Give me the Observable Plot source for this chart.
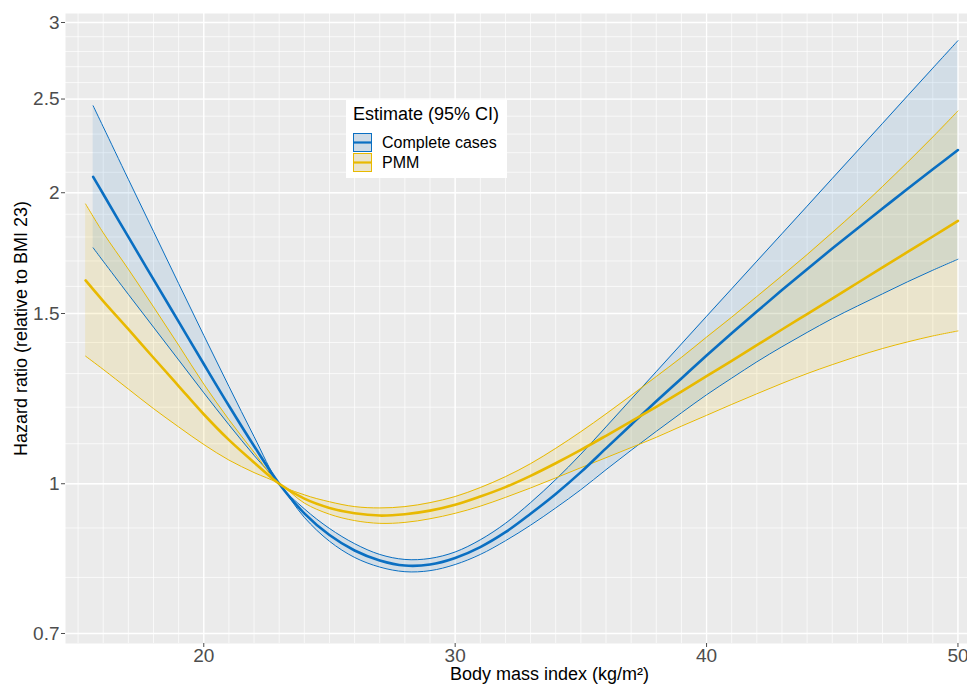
<!DOCTYPE html>
<html>
<head>
<meta charset="utf-8">
<script src="https://cdn.jsdelivr.net/npm/d3@7"></script>
<script src="https://cdn.jsdelivr.net/npm/@observablehq/plot@0.6"></script>
<style>
  html, body { margin: 0; padding: 0; background: #ffffff; }
  #wrap { position: relative; width: 967px; height: 685px; font-family: "Liberation Sans", Arial, sans-serif; }
  #legend { position: absolute; left: 346px; top: 100px; width: 161px; height: 78px; background: #ffffff; }
  #legend .title { position: absolute; left: 7px; top: 4px; font-size: 18px; color: #000; white-space: nowrap; }
  #legend .row { position: absolute; left: 7px; height: 19px; display: flex; align-items: center; white-space: nowrap; font-size: 16px; color: #000; }
  #legend .row svg { margin-right: 10px; }
</style>
</head>
<body>
<div id="wrap"></div>
<script>
// ---- Data ----
// Complete cases (blue)
const ccBmi   = [15.6, 16, 17, 18, 19, 20, 21, 22, 23, 24, 25, 26, 27, 28, 29, 30, 31, 32, 33, 34, 35, 36, 37, 38, 39, 40, 41, 42, 43, 44, 45, 46, 47, 48, 49, 50];
const ccEst   = [2.077, 1.994, 1.800, 1.627, 1.471, 1.330, 1.204, 1.094, 1.000, 0.932, 0.885, 0.853, 0.833, 0.823, 0.825, 0.838, 0.860, 0.891, 0.931, 0.976, 1.028, 1.088, 1.151, 1.217, 1.285, 1.357, 1.431, 1.507, 1.586, 1.667, 1.751, 1.837, 1.926, 2.019, 2.115, 2.214];
const ccLower = [1.754, 1.699, 1.570, 1.452, 1.343, 1.242, 1.151, 1.070, 1.000, 0.923, 0.872, 0.839, 0.820, 0.811, 0.813, 0.825, 0.845, 0.873, 0.906, 0.944, 0.986, 1.034, 1.083, 1.133, 1.184, 1.236, 1.286, 1.337, 1.386, 1.434, 1.482, 1.527, 1.572, 1.618, 1.663, 1.707];
const ccUpper = [2.460, 2.340, 2.065, 1.824, 1.611, 1.424, 1.261, 1.119, 1.000, 0.942, 0.899, 0.867, 0.845, 0.835, 0.837, 0.850, 0.875, 0.910, 0.956, 1.010, 1.073, 1.145, 1.223, 1.306, 1.395, 1.490, 1.591, 1.699, 1.814, 1.937, 2.069, 2.209, 2.359, 2.520, 2.691, 2.873];
// PMM (yellow)
const pmmBmi   = [15.3, 16, 17, 18, 19, 20, 21, 22, 23, 24, 25, 26, 27, 28, 29, 30, 31, 32, 33, 34, 35, 36, 37, 38, 39, 40, 41, 42, 43, 44, 45, 46, 47, 48, 49, 50];
const pmmEst   = [1.623, 1.545, 1.445, 1.350, 1.262, 1.180, 1.110, 1.052, 1.000, 0.965, 0.944, 0.932, 0.927, 0.930, 0.938, 0.951, 0.970, 0.992, 1.019, 1.050, 1.084, 1.121, 1.160, 1.201, 1.245, 1.292, 1.340, 1.391, 1.444, 1.498, 1.554, 1.613, 1.674, 1.737, 1.802, 1.870];
const pmmLower = [1.355, 1.313, 1.253, 1.196, 1.145, 1.098, 1.058, 1.027, 1.000, 0.955, 0.930, 0.916, 0.910, 0.912, 0.920, 0.932, 0.948, 0.968, 0.990, 1.014, 1.039, 1.064, 1.090, 1.117, 1.147, 1.177, 1.208, 1.239, 1.270, 1.300, 1.328, 1.355, 1.380, 1.402, 1.422, 1.439];
const pmmUpper = [1.947, 1.818, 1.667, 1.524, 1.391, 1.268, 1.165, 1.078, 1.000, 0.974, 0.958, 0.947, 0.944, 0.947, 0.956, 0.970, 0.991, 1.017, 1.049, 1.088, 1.132, 1.181, 1.234, 1.291, 1.351, 1.418, 1.487, 1.562, 1.641, 1.726, 1.819, 1.919, 2.030, 2.151, 2.284, 2.430];

const seriesNames = ["Complete cases", "PMM"];
const seriesColors = ["#0A6FC2", "#E8B900"];

// Axis ticks and grid
const xTicks = [20, 30, 40, 50];
const xGrid = d3.range(15, 51, 1);
const yTicks = [0.7, 1, 1.5, 2, 2.5, 3];
const yGrid = d3.range(7, 31, 1).map(d => d / 10);

const xLabel = "Body mass index (kg/m²)";
const yLabel = "Hazard ratio (relative to BMI 23)";
const legendTitle = "Estimate (95% CI)";

// ---- Build tables ----
const cc = ccBmi.map((x, i) => ({x, est: ccEst[i], lo: ccLower[i], hi: ccUpper[i]}));
const pmm = pmmBmi.map((x, i) => ({x, est: pmmEst[i], lo: pmmLower[i], hi: pmmUpper[i]}));

const curve = "catmull-rom";
const [cBlue, cYel] = seriesColors;

const chart = Plot.plot({
  width: 967,
  height: 685,
  marginTop: 13,
  marginBottom: 42,
  marginLeft: 65,
  marginRight: 0,
  style: {fontFamily: "'Liberation Sans', Arial, sans-serif", background: "transparent", overflow: "visible"},
  x: {domain: [14.5, 50.38]},
  y: {type: "log", domain: [0.6835, 3.065]},
  marks: [
    Plot.frame({fill: "#EBEBEB", stroke: "none"}),
    Plot.ruleX(xGrid, {stroke: "#ffffff", strokeWidth: 0.7}),
    Plot.ruleY(yGrid, {stroke: "#ffffff", strokeWidth: 0.7}),
    Plot.ruleX(xTicks, {stroke: "#ffffff", strokeWidth: 1.3}),
    Plot.ruleY(yTicks, {stroke: "#ffffff", strokeWidth: 1.3}),
    Plot.areaY(cc, {x: "x", y1: "lo", y2: "hi", fill: cBlue, fillOpacity: 0.11, curve}),
    Plot.areaY(pmm, {x: "x", y1: "lo", y2: "hi", fill: cYel, fillOpacity: 0.13, curve}),
    Plot.line(cc, {x: "x", y: "lo", stroke: cBlue, strokeWidth: 1, curve}),
    Plot.line(cc, {x: "x", y: "hi", stroke: cBlue, strokeWidth: 1, curve}),
    Plot.line(pmm, {x: "x", y: "lo", stroke: cYel, strokeWidth: 1, curve}),
    Plot.line(pmm, {x: "x", y: "hi", stroke: cYel, strokeWidth: 1, curve}),
    Plot.line(cc, {x: "x", y: "est", stroke: cBlue, strokeWidth: 2.6, curve}),
    Plot.line(pmm, {x: "x", y: "est", stroke: cYel, strokeWidth: 2.6, curve}),
    Plot.axisX({ticks: xTicks, tickSize: 4, tickPadding: 1, fontSize: 19, color: "#4D4D4D", label: null}),
    Plot.axisY({ticks: yTicks, tickFormat: d => String(d), tickSize: 4, tickPadding: 2, fontSize: 19, color: "#4D4D4D", label: null}),
    Plot.text([xLabel], {frameAnchor: "bottom", textAnchor: "middle", lineAnchor: "middle", dx: 33, dy: 31, fontSize: 18, fill: "#000"}),
    Plot.text([yLabel], {frameAnchor: "left", textAnchor: "middle", lineAnchor: "middle", dx: -44, rotate: -90, fontSize: 18, fill: "#000"})
  ]
});

const wrap = document.getElementById("wrap");
wrap.appendChild(chart);

// Legend (inside the panel, as in the reference)
const legend = document.createElement("div");
legend.id = "legend";
const title = document.createElement("div");
title.className = "title";
title.textContent = legendTitle;
legend.appendChild(title);
seriesNames.forEach((name, i) => {
  const row = document.createElement("div");
  row.className = "row";
  row.style.top = (33 + i * 20) + "px";
  const c = seriesColors[i];
  row.innerHTML = `<svg width="19" height="19"><rect x="0.5" y="0.5" width="18" height="18" fill="#EBEBEB"/><rect x="0.5" y="0.5" width="18" height="18" fill="${c}" fill-opacity="0.12" stroke="${c}" stroke-width="1"/><line x1="1" x2="18" y1="9.5" y2="9.5" stroke="${c}" stroke-width="2.2"/></svg><span>${name}</span>`;
  legend.appendChild(row);
});
wrap.appendChild(legend);
</script>
</body>
</html>
